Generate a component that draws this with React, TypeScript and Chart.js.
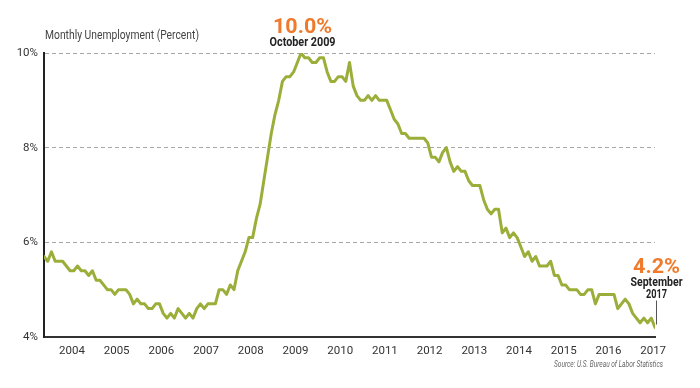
import React, { useEffect, useRef } from "react";
import { Chart, registerables } from "chart.js";

Chart.register(...registerables);

// ---- Data (monthly unemployment rate, %, Jan 2004 – Sep 2017) ----
const rate2004 = [5.7, 5.6, 5.8, 5.6, 5.6, 5.6, 5.5, 5.4, 5.4, 5.5, 5.4, 5.4];
const rate2005 = [5.3, 5.4, 5.2, 5.2, 5.1, 5.0, 5.0, 4.9, 5.0, 5.0, 5.0, 4.9];
const rate2006 = [4.7, 4.8, 4.7, 4.7, 4.6, 4.6, 4.7, 4.7, 4.5, 4.4, 4.5, 4.4];
const rate2007 = [4.6, 4.5, 4.4, 4.5, 4.4, 4.6, 4.7, 4.6, 4.7, 4.7, 4.7, 5.0];
const rate2008 = [5.0, 4.9, 5.1, 5.0, 5.4, 5.6, 5.8, 6.1, 6.1, 6.5, 6.8, 7.3];
const rate2009 = [7.8, 8.3, 8.7, 9.0, 9.4, 9.5, 9.5, 9.6, 9.8, 10.0, 9.9, 9.9];
const rate2010 = [9.8, 9.8, 9.9, 9.9, 9.6, 9.4, 9.4, 9.5, 9.5, 9.4, 9.8, 9.3];
const rate2011 = [9.1, 9.0, 9.0, 9.1, 9.0, 9.1, 9.0, 9.0, 9.0, 8.8, 8.6, 8.5];
const rate2012 = [8.3, 8.3, 8.2, 8.2, 8.2, 8.2, 8.2, 8.1, 7.8, 7.8, 7.7, 7.9];
const rate2013 = [8.0, 7.7, 7.5, 7.6, 7.5, 7.5, 7.3, 7.2, 7.2, 7.2, 6.9, 6.7];
const rate2014 = [6.6, 6.7, 6.7, 6.2, 6.3, 6.1, 6.2, 6.1, 5.9, 5.7, 5.8, 5.6];
const rate2015 = [5.7, 5.5, 5.5, 5.5, 5.6, 5.3, 5.3, 5.1, 5.1, 5.0, 5.0, 5.0];
const rate2016 = [4.9, 4.9, 5.0, 5.0, 4.7, 4.9, 4.9, 4.9, 4.9, 4.9, 4.6, 4.7];
const rate2017 = [4.8, 4.7, 4.5, 4.4, 4.3, 4.4, 4.3, 4.4, 4.2];

const yearLabels = ["2004", "2005", "2006", "2007", "2008", "2009", "2010", "2011", "2012", "2013", "2014", "2015", "2016", "2017"];
const yTickValues = [4, 6, 8, 10];

const titleText = "Monthly Unemployment (Percent)";
const sourceText = "Source: U.S. Bureau of Labor Statistics";
const peakValueText = "10.0%";
const peakDateText = "October 2009";
const latestValueText = "4.2%";
const latestDateLines = ["September", "2017"];

const rates = [
  ...rate2004, ...rate2005, ...rate2006, ...rate2007, ...rate2008, ...rate2009, ...rate2010,
  ...rate2011, ...rate2012, ...rate2013, ...rate2014, ...rate2015, ...rate2016, ...rate2017,
];
const points = rates.map((v, i) => ({ x: i, y: v }));
const peakIndex = rates.indexOf(Math.max(...rates));
const lastIndex = rates.length - 1;

// ---- Styles ----
const LINE_COLOR = "#9cae3a";
const ORANGE = "#ef7a2b";
const DARK = "#222222";
const FONT = "Roboto";

function drawFitted(
  ctx: CanvasRenderingContext2D,
  text: string,
  x: number,
  y: number,
  align: CanvasTextAlign,
  width?: number
) {
  ctx.save();
  ctx.textAlign = align;
  ctx.textBaseline = "alphabetic";
  ctx.translate(x, y);
  if (width) {
    const w = ctx.measureText(text).width;
    if (w > 0) ctx.scale(width / w, 1);
  }
  ctx.fillText(text, 0, 0);
  ctx.restore();
}

const annotationPlugin = {
  id: "annotations",
  afterDraw(chart: any) {
    const { ctx, scales } = chart;
    const xs = scales.x;
    const ys = scales.y;
    ctx.save();

    // Title
    ctx.fillStyle = "#444";
    ctx.font = `400 12px ${FONT}`;
    drawFitted(ctx, titleText, xs.left + 1, ys.top - 14, "left", 154);

    // Peak annotation
    const px = xs.getPixelForValue(peakIndex) + 1.5;
    const py = ys.getPixelForValue(rates[peakIndex]);
    ctx.fillStyle = ORANGE;
    ctx.font = `700 21px ${FONT}`;
    drawFitted(ctx, peakValueText, px, py - 20, "center", 59);
    ctx.fillStyle = DARK;
    ctx.font = `700 12px ${FONT}`;
    drawFitted(ctx, peakDateText, px, py - 7, "center", 66);

    // Latest annotation
    const lx = xs.getPixelForValue(lastIndex);
    const ly = ys.getPixelForValue(rates[lastIndex]);
    ctx.fillStyle = ORANGE;
    ctx.font = `700 21px ${FONT}`;
    drawFitted(ctx, latestValueText, lx + 1.5, ly - 55, "center", 47);
    ctx.fillStyle = DARK;
    ctx.font = `700 12px ${FONT}`;
    drawFitted(ctx, latestDateLines[0], lx + 1.5, ly - 42, "center", 52);
    drawFitted(ctx, latestDateLines[1], lx + 1.5, ly - 30, "center", 21);

    ctx.strokeStyle = "#555";
    ctx.lineWidth = 1;
    ctx.beginPath();
    ctx.moveTo(Math.round(lx + 1) + 0.5, ly - 27);
    ctx.lineTo(Math.round(lx + 1) + 0.5, ly - 3);
    ctx.stroke();

    // Source
    ctx.fillStyle = "#666";
    ctx.font = `italic 400 9px ${FONT}`;
    drawFitted(ctx, sourceText, xs.right + 8, ys.bottom + 30, "right", 109);

    ctx.restore();
  },
};

export default function App() {
  const canvasRef = useRef<HTMLCanvasElement | null>(null);

  useEffect(() => {
    if (!canvasRef.current) return;
    const chart = new Chart(canvasRef.current, {
      type: "line",
      data: {
        datasets: [
          {
            data: points,
            borderColor: LINE_COLOR,
            borderWidth: 3,
            pointRadius: 0,
            tension: 0,
            fill: false,
            borderJoinStyle: "round",
            borderCapStyle: "round",
          },
        ],
      },
      options: {
        animation: false,
        responsive: false,
        devicePixelRatio: 1,
        layout: { padding: { left: 0, right: 45, top: 53, bottom: 0 } },
        plugins: {
          legend: { display: false },
          tooltip: { enabled: false },
          title: { display: false },
        },
        scales: {
          x: {
            type: "linear",
            min: 0,
            max: lastIndex,
            grid: { display: false, drawTicks: false },
            border: { display: true, color: "#333", width: 2 },
            afterBuildTicks: (scale: any) => {
              scale.ticks = yearLabels.map((_, i) => ({ value: 7.5 + 12 * i }));
            },
            afterFit: (scale: any) => {
              scale.height = 51;
            },
            ticks: {
              autoSkip: false,
              maxRotation: 0,
              padding: 7,
              color: "#333",
              font: { family: FONT, size: 11.5 },
              callback: (_v: any, i: number) => yearLabels[i],
            },
          },
          y: {
            min: 4,
            max: 10,
            afterBuildTicks: (scale: any) => {
              scale.ticks = yTickValues.map((v) => ({ value: v }));
            },
            afterFit: (scale: any) => {
              scale.width = 44;
            },
            grid: {
              drawTicks: false,
              color: (c: any) => (c.tick && c.tick.value === 4 ? "rgba(0,0,0,0)" : "#a8a8a8"),
              lineWidth: 1,
            },
            border: { display: true, color: "#222", width: 2, dash: [4, 3] },
            ticks: {
              padding: 6,
              color: "#333",
              font: { family: FONT, size: 11.5 },
              callback: (v: any) => `${v}%`,
            },
          },
        },
      },
      plugins: [annotationPlugin],
    });
    return () => chart.destroy();
  }, []);

  return (
    <div style={{ position: "absolute", left: 0, top: 0, width: 700, height: 388, background: "#fff" }}>
      <canvas ref={canvasRef} width={700} height={388} />
    </div>
  );
}
